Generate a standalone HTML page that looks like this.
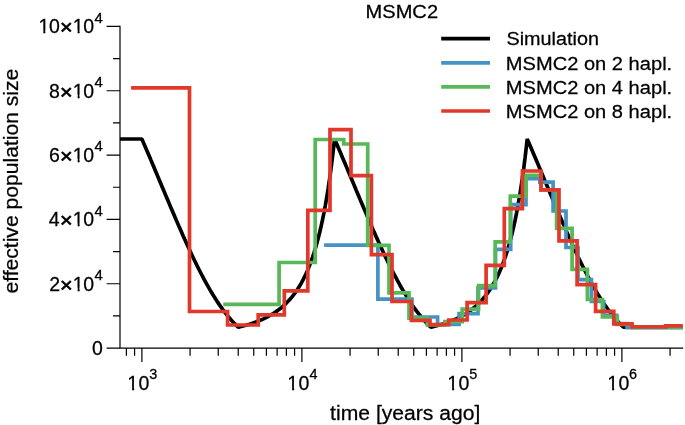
<!DOCTYPE html>
<html><head><meta charset="utf-8"><title>MSMC2</title>
<style>
html,body{margin:0;padding:0;background:#fff;}
svg{display:block;will-change:transform;}
text{font-family:"Liberation Sans",sans-serif;fill:#000;stroke:#000;stroke-width:0.26px;}
</style></head>
<body>
<svg width="685" height="425" viewBox="0 0 685 425">
<rect width="685" height="425" fill="#fff"/>
<path d="M120.0,26.4 V348.1 H682.6" fill="none" stroke="#000" stroke-width="1.2" stroke-linecap="square"/>
<path d="M106.6,348.10 H120.0 M113.0,315.93 H120.0 M106.6,283.76 H120.0 M113.0,251.59 H120.0 M106.6,219.42 H120.0 M113.0,187.25 H120.0 M106.6,155.08 H120.0 M113.0,122.91 H120.0 M106.6,90.74 H120.0 M113.0,58.57 H120.0 M106.6,26.40 H120.0 M126.39,348.1 V355.7 M134.58,348.1 V355.7 M141.90,348.1 V362.1 M190.06,348.1 V355.7 M218.24,348.1 V355.7 M238.23,348.1 V355.7 M253.74,348.1 V355.7 M266.40,348.1 V355.7 M277.12,348.1 V355.7 M286.39,348.1 V355.7 M294.58,348.1 V355.7 M301.90,348.1 V362.1 M350.06,348.1 V355.7 M378.24,348.1 V355.7 M398.23,348.1 V355.7 M413.74,348.1 V355.7 M426.40,348.1 V355.7 M437.12,348.1 V355.7 M446.39,348.1 V355.7 M454.58,348.1 V355.7 M461.90,348.1 V362.1 M510.06,348.1 V355.7 M538.24,348.1 V355.7 M558.23,348.1 V355.7 M573.74,348.1 V355.7 M586.40,348.1 V355.7 M597.12,348.1 V355.7 M606.39,348.1 V355.7 M614.58,348.1 V355.7 M621.90,348.1 V362.1 M670.06,348.1 V355.7" fill="none" stroke="#000" stroke-width="1.2"/>
<path d="M120.00,139.00 L121.41,139.00 L122.81,139.00 L124.22,139.00 L125.63,139.00 L127.03,139.00 L128.44,139.00 L129.85,139.00 L131.25,139.00 L132.66,139.00 L134.07,139.00 L135.47,139.00 L136.88,139.00 L138.28,139.00 L139.69,139.00 L141.10,139.00 L141.90,139.00 L142.50,140.39 L143.91,143.65 L145.32,146.93 L146.72,150.22 L148.13,153.52 L149.54,156.83 L150.94,160.15 L152.35,163.48 L153.76,166.82 L155.16,170.16 L156.57,173.51 L157.98,176.86 L159.38,180.22 L160.79,183.57 L162.19,186.92 L163.60,190.28 L165.01,193.63 L166.41,196.97 L167.82,200.31 L169.23,203.64 L170.63,206.96 L172.04,210.27 L173.45,213.57 L174.85,216.85 L176.26,220.12 L177.67,223.37 L179.07,226.60 L180.48,229.81 L181.89,233.00 L183.29,236.17 L184.70,239.31 L186.11,242.43 L187.51,245.52 L188.92,248.57 L190.33,251.60 L191.73,254.59 L193.14,257.55 L194.54,260.47 L195.95,263.36 L197.36,266.20 L198.76,269.01 L200.17,271.77 L201.58,274.50 L202.98,277.17 L204.39,279.80 L205.80,282.39 L207.20,284.92 L208.61,287.41 L210.02,289.85 L211.42,292.23 L212.83,294.57 L214.24,296.85 L215.64,299.08 L217.05,301.25 L218.46,303.37 L219.86,305.43 L221.27,307.44 L222.67,309.39 L224.08,311.29 L225.49,313.13 L226.89,314.91 L228.30,316.63 L229.71,318.30 L231.11,319.91 L232.52,321.46 L233.93,322.96 L235.33,324.40 L236.74,325.78 L238.15,327.11 L238.23,327.19 L239.55,326.88 L240.96,326.54 L242.37,326.18 L243.77,325.81 L245.18,325.43 L246.59,325.03 L247.99,324.62 L249.40,324.20 L250.80,323.75 L252.21,323.29 L253.62,322.81 L255.02,322.31 L256.43,321.79 L257.84,321.24 L259.24,320.68 L260.65,320.09 L262.06,319.48 L263.46,318.84 L264.87,318.17 L266.28,317.47 L267.68,316.74 L269.09,315.98 L270.50,315.19 L271.90,314.36 L273.31,313.49 L274.72,312.57 L276.12,311.62 L277.53,310.62 L278.93,309.57 L280.34,308.47 L281.75,307.31 L283.15,306.09 L284.56,304.82 L285.97,303.47 L287.37,302.06 L288.78,300.57 L290.19,299.00 L291.59,297.34 L293.00,295.60 L294.41,293.75 L295.81,291.81 L297.22,289.75 L298.63,287.57 L300.03,285.26 L301.44,282.81 L302.85,280.21 L304.25,277.46 L305.66,274.53 L307.06,271.42 L308.47,268.11 L309.88,264.59 L311.28,260.83 L312.69,256.82 L314.10,252.54 L315.50,247.97 L316.91,243.07 L318.32,237.83 L319.72,232.22 L321.13,226.19 L322.54,219.71 L323.94,212.75 L325.35,205.26 L326.76,197.19 L328.16,188.48 L329.57,179.07 L330.98,168.90 L332.38,157.89 L333.79,145.96 L334.56,139.00 L335.19,140.46 L336.60,143.73 L338.01,147.00 L339.41,150.29 L340.82,153.59 L342.23,156.91 L343.63,160.23 L345.04,163.56 L346.45,166.89 L347.85,170.24 L349.26,173.59 L350.67,176.94 L352.07,180.29 L353.48,183.64 L354.89,187.00 L356.29,190.35 L357.70,193.70 L359.11,197.04 L360.51,200.38 L361.92,203.71 L363.32,207.03 L364.73,210.34 L366.14,213.64 L367.54,216.92 L368.95,220.19 L370.36,223.44 L371.76,226.67 L373.17,229.89 L374.58,233.08 L375.98,236.24 L377.39,239.38 L378.80,242.50 L380.20,245.58 L381.61,248.64 L383.02,251.67 L384.42,254.66 L385.83,257.62 L387.24,260.54 L388.64,263.42 L390.05,266.27 L391.45,269.07 L392.86,271.84 L394.27,274.56 L395.67,277.23 L397.08,279.86 L398.49,282.44 L399.89,284.98 L401.30,287.47 L402.71,289.90 L404.11,292.29 L405.52,294.62 L406.93,296.90 L408.33,299.13 L409.74,301.30 L411.15,303.42 L412.55,305.48 L413.96,307.49 L415.37,309.44 L416.77,311.33 L418.18,313.17 L419.58,314.94 L420.99,316.67 L422.40,318.33 L423.80,319.94 L425.21,321.49 L426.62,322.99 L428.02,324.43 L429.43,325.81 L430.84,327.14 L430.89,327.19 L432.24,326.87 L433.65,326.53 L435.06,326.17 L436.46,325.81 L437.87,325.42 L439.28,325.03 L440.68,324.61 L442.09,324.19 L443.50,323.74 L444.90,323.28 L446.31,322.80 L447.71,322.30 L449.12,321.77 L450.53,321.23 L451.93,320.67 L453.34,320.08 L454.75,319.46 L456.15,318.82 L457.56,318.15 L458.97,317.46 L460.37,316.73 L461.78,315.97 L463.19,315.17 L464.59,314.34 L466.00,313.47 L467.41,312.55 L468.81,311.60 L470.22,310.59 L471.62,309.54 L473.03,308.44 L474.44,307.28 L475.84,306.07 L477.25,304.79 L478.66,303.44 L480.06,302.03 L481.47,300.53 L482.88,298.96 L484.28,297.31 L485.69,295.56 L487.10,293.71 L488.50,291.76 L489.91,289.70 L491.32,287.52 L492.72,285.20 L494.13,282.75 L495.54,280.16 L496.94,277.40 L498.35,274.47 L499.76,271.35 L501.16,268.04 L502.57,264.51 L503.97,260.75 L505.38,256.73 L506.79,252.44 L508.19,247.86 L509.60,242.96 L511.01,237.71 L512.41,232.09 L513.82,226.05 L515.23,219.56 L516.63,212.59 L518.04,205.09 L519.45,197.00 L520.85,188.28 L522.26,178.85 L523.67,168.67 L525.07,157.64 L526.48,145.69 L527.22,139.00 L527.88,140.54 L529.29,143.80 L530.70,147.08 L532.10,150.37 L533.51,153.67 L534.92,156.98 L536.32,160.30 L537.73,163.63 L539.14,166.97 L540.54,170.31 L541.95,173.66 L543.36,177.01 L544.76,180.37 L546.17,183.72 L547.58,187.07 L548.98,190.43 L550.39,193.77 L551.80,197.12 L553.20,200.46 L554.61,203.79 L556.02,207.11 L557.42,210.42 L558.83,213.71 L560.23,217.00 L561.64,220.26 L563.05,223.51 L564.45,226.75 L565.86,229.96 L567.27,233.15 L568.67,236.31 L570.08,239.45 L571.49,242.57 L572.89,245.65 L574.30,248.71 L575.71,251.73 L577.11,254.72 L578.52,257.68 L579.93,260.60 L581.33,263.49 L582.74,266.33 L584.15,269.13 L585.55,271.90 L586.96,274.62 L588.36,277.29 L589.77,279.92 L591.18,282.50 L592.58,285.04 L593.99,287.52 L595.40,289.96 L596.80,292.34 L598.21,294.67 L599.62,296.95 L601.02,299.18 L602.43,301.35 L603.84,303.46 L605.24,305.52 L606.65,307.53 L608.06,309.48 L609.46,311.37 L610.87,313.21 L612.27,314.98 L613.68,316.71 L615.09,318.37 L616.49,319.98 L617.90,321.53 L619.31,323.02 L620.71,324.46 L622.12,325.84 L623.53,327.17 L623.55,327.19 L624.93,327.19 L626.34,327.19 L627.75,327.19 L629.15,327.19 L630.56,327.19 L631.97,327.19 L633.37,327.19 L634.78,327.19 L636.19,327.19 L637.59,327.19 L639.00,327.19 L640.41,327.19 L641.81,327.19 L643.22,327.19 L644.62,327.19 L646.03,327.19 L647.44,327.19 L648.84,327.19 L650.25,327.19 L651.66,327.19 L653.06,327.19 L654.47,327.19 L655.88,327.19 L657.28,327.19 L658.69,327.19 L660.10,327.19 L661.50,327.19 L662.91,327.19 L664.32,327.19 L665.72,327.19 L667.13,327.19 L668.53,327.19 L669.94,327.19 L671.35,327.19 L672.75,327.19 L674.16,327.19 L675.57,327.19 L676.97,327.19 L678.38,327.19 L679.79,327.19 L681.19,327.19 L682.60,327.19 L682.60,327.19" fill="none" stroke="#000" stroke-width="3.7" stroke-linejoin="bevel"/>
<path d="M324.1,245.1 L377.9,245.1 L377.9,299.1 L411.9,299.1 L411.9,317.0 L437.6,317.0 L437.6,324.5 L459.1,324.5 L459.1,313.7 L478.0,313.7 L478.0,288.0 L495.5,288.0 L495.5,249.3 L510.7,249.3 L510.7,204.7 L526.0,204.7 L526.0,178.6 L539.8,178.6 L539.8,182.2 L553.1,182.2 L553.1,211.0 L566.0,211.0 L566.0,247.5 L578.0,247.5 L578.0,279.7 L591.4,279.7 L591.4,301.5 L603.7,301.5 L603.7,315.3 L616.7,315.3 L616.7,323.6 L627.1,323.6 L627.1,327.6 L682.7,327.6" fill="none" stroke="#4592c5" stroke-width="3.7" stroke-linejoin="miter"/>
<path d="M223.2,304.4 L279.1,304.4 L279.1,262.5 L315.2,262.5 L315.2,139.5 L343.7,139.5 L343.7,144.0 L367.7,144.0 L367.7,245.3 L389.0,245.3 L389.0,292.8 L409.0,292.8 L409.0,318.2 L427.3,318.2 L427.3,324.9 L444.8,324.9 L444.8,321.6 L462.2,321.6 L462.2,309.2 L478.6,309.2 L478.6,285.7 L495.2,285.7 L495.2,241.8 L510.3,241.8 L510.3,196.1 L526.1,196.1 L526.1,175.3 L541.0,175.3 L541.0,190.0 L556.6,190.0 L556.6,228.4 L572.1,228.4 L572.1,269.4 L587.4,269.4 L587.4,299.5 L602.4,299.5 L602.4,316.8 L617.3,316.8 L617.3,324.5 L632.0,324.5 L632.0,327.3 L682.7,327.3" fill="none" stroke="#58b857" stroke-width="3.7" stroke-linejoin="miter"/>
<path d="M131.1,87.9 L189.5,87.9 L189.5,311.5 L227.6,311.5 L227.6,325.0 L258.2,325.0 L258.2,314.8 L284.3,314.8 L284.3,290.9 L307.8,290.9 L307.8,210.3 L330.0,210.3 L330.0,129.7 L351.0,129.7 L351.0,175.7 L371.4,175.7 L371.4,254.7 L392.0,254.7 L392.0,301.5 L411.4,301.5 L411.4,320.4 L430.0,320.4 L430.0,324.6 L448.7,324.6 L448.7,320.0 L467.1,320.0 L467.1,302.6 L486.1,302.6 L486.1,265.3 L504.3,265.3 L504.3,208.6 L522.4,208.6 L522.4,171.0 L541.0,171.0 L541.0,189.8 L559.0,189.8 L559.0,240.8 L577.1,240.8 L577.1,284.6 L595.6,284.6 L595.6,311.4 L613.8,311.4 L613.8,323.8 L632.0,323.8 L632.0,327.0 L665.7,327.0 L665.7,325.9 L682.7,325.9" fill="none" stroke="#e0392b" stroke-width="3.7" stroke-linejoin="miter"/>
<path d="M441.2,38.7 H490.0" stroke="#000" stroke-width="3.7" fill="none"/>
<path d="M441.2,62.9 H490.0" stroke="#4592c5" stroke-width="3.7" fill="none"/>
<path d="M441.2,86.8 H490.0" stroke="#58b857" stroke-width="3.7" fill="none"/>
<path d="M441.2,111.0 H490.0" stroke="#e0392b" stroke-width="3.7" fill="none"/>
<text transform="translate(506.47,45.10) scale(1.043,1)" font-size="19.0">Simulation</text>
<text transform="translate(505.80,69.60) scale(1.058,1)" font-size="19.0">MSMC2 on 2 hapl.</text>
<text transform="translate(505.80,93.70) scale(1.058,1)" font-size="19.0">MSMC2 on 4 hapl.</text>
<text transform="translate(505.80,117.70) scale(1.058,1)" font-size="19.0">MSMC2 on 8 hapl.</text>
<text transform="translate(365.50,17.80) scale(1.058,1)" font-size="19.0">MSMC2</text>
<text transform="translate(330.12,419.80) scale(1.073,1)" font-size="19.7">time [years ago]</text>
<text transform="translate(17.95,293.55) rotate(-90) scale(1.072,1)" font-size="19.7">effective population size</text>
<text transform="translate(91.90,354.95) scale(1.0,1)" font-size="19.5">0</text>
<text transform="translate(49.15,290.61) scale(1.0,1)" font-size="19.5">2</text>
<text transform="translate(59.98,291.81) scale(1.065,1)" font-size="20.3" style="stroke-width:0.7px">×</text>
<text transform="translate(72.67,290.61) scale(1.0,1)" font-size="19.5">1</text>
<path d="M72.96,287.80H77.60v4.16H72.96z M79.65,287.80H83.87v4.16H79.65z" fill="#fff"/>
<text transform="translate(83.20,290.61) scale(1.0,1)" font-size="19.5">0</text>
<text transform="translate(94.52,279.91) scale(1.065,1)" font-size="14.0">4</text>
<text transform="translate(48.77,226.27) scale(1.0,1)" font-size="19.5">4</text>
<text transform="translate(59.98,227.47) scale(1.065,1)" font-size="20.3" style="stroke-width:0.7px">×</text>
<text transform="translate(72.67,226.27) scale(1.0,1)" font-size="19.5">1</text>
<path d="M72.96,223.46H77.60v4.16H72.96z M79.65,223.46H83.87v4.16H79.65z" fill="#fff"/>
<text transform="translate(83.20,226.27) scale(1.0,1)" font-size="19.5">0</text>
<text transform="translate(94.52,215.57) scale(1.065,1)" font-size="14.0">4</text>
<text transform="translate(49.02,161.93) scale(1.0,1)" font-size="19.5">6</text>
<text transform="translate(59.98,163.13) scale(1.065,1)" font-size="20.3" style="stroke-width:0.7px">×</text>
<text transform="translate(72.67,161.93) scale(1.0,1)" font-size="19.5">1</text>
<path d="M72.96,159.12H77.60v4.16H72.96z M79.65,159.12H83.87v4.16H79.65z" fill="#fff"/>
<text transform="translate(83.20,161.93) scale(1.0,1)" font-size="19.5">0</text>
<text transform="translate(94.52,151.23) scale(1.065,1)" font-size="14.0">4</text>
<text transform="translate(49.02,97.59) scale(1.0,1)" font-size="19.5">8</text>
<text transform="translate(59.98,98.79) scale(1.065,1)" font-size="20.3" style="stroke-width:0.7px">×</text>
<text transform="translate(72.67,97.59) scale(1.0,1)" font-size="19.5">1</text>
<path d="M72.96,94.78H77.60v4.16H72.96z M79.65,94.78H83.87v4.16H79.65z" fill="#fff"/>
<text transform="translate(83.20,97.59) scale(1.0,1)" font-size="19.5">0</text>
<text transform="translate(94.52,86.89) scale(1.065,1)" font-size="14.0">4</text>
<text transform="translate(38.38,33.25) scale(1.0,1)" font-size="19.5">1</text>
<path d="M38.66,30.44H43.30v4.16H38.66z M45.35,30.44H49.57v4.16H45.35z" fill="#fff"/>
<text transform="translate(48.90,33.25) scale(1.0,1)" font-size="19.5">0</text>
<text transform="translate(59.98,34.45) scale(1.065,1)" font-size="20.3" style="stroke-width:0.7px">×</text>
<text transform="translate(72.67,33.25) scale(1.0,1)" font-size="19.5">1</text>
<path d="M72.96,30.44H77.60v4.16H72.96z M79.65,30.44H83.87v4.16H79.65z" fill="#fff"/>
<text transform="translate(83.20,33.25) scale(1.0,1)" font-size="19.5">0</text>
<text transform="translate(94.52,22.55) scale(1.065,1)" font-size="14.0">4</text>
<text transform="translate(127.18,389.85) scale(1.0,1)" font-size="19.5">1</text>
<path d="M127.46,387.04H132.10v4.16H127.46z M134.15,387.04H138.37v4.16H134.15z" fill="#fff"/>
<text transform="translate(138.50,389.85) scale(1.0,1)" font-size="19.5">0</text>
<text transform="translate(149.16,379.25) scale(1.03,1)" font-size="14.0">3</text>
<text transform="translate(287.17,389.85) scale(1.0,1)" font-size="19.5">1</text>
<path d="M287.46,387.04H292.10v4.16H287.46z M294.15,387.04H298.37v4.16H294.15z" fill="#fff"/>
<text transform="translate(298.50,389.85) scale(1.0,1)" font-size="19.5">0</text>
<text transform="translate(309.42,379.25) scale(1.03,1)" font-size="14.0">4</text>
<text transform="translate(447.17,389.85) scale(1.0,1)" font-size="19.5">1</text>
<path d="M447.46,387.04H452.10v4.16H447.46z M454.15,387.04H458.37v4.16H454.15z" fill="#fff"/>
<text transform="translate(458.50,389.85) scale(1.0,1)" font-size="19.5">0</text>
<text transform="translate(469.16,379.25) scale(1.03,1)" font-size="14.0">5</text>
<text transform="translate(607.17,389.85) scale(1.0,1)" font-size="19.5">1</text>
<path d="M607.46,387.04H612.10v4.16H607.46z M614.15,387.04H618.37v4.16H614.15z" fill="#fff"/>
<text transform="translate(618.50,389.85) scale(1.0,1)" font-size="19.5">0</text>
<text transform="translate(628.91,379.25) scale(1.03,1)" font-size="14.0">6</text>
</svg>
</body></html>
